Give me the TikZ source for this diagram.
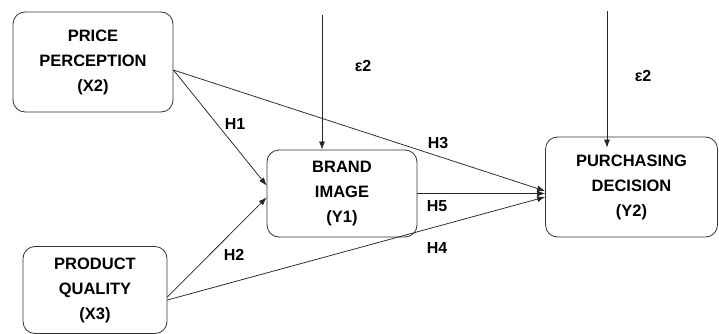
\documentclass[tikz,border=0pt]{standalone}
\usepackage{fontspec}
\setmainfont{Liberation Sans}
\usepackage{tikz}
\usetikzlibrary{calc,arrows.meta}

\begin{document}
\begin{tikzpicture}[->, >={Latex[length=8pt,width=6pt]}, x=1pt, y=-1pt]
        \tikzset{VarBox/.style={draw=black!80, line width=0.8pt, rounded corners=12pt, align=center,
            inner sep=0pt, font=\fontsize{16.5}{25}\selectfont\bfseries}}
        \tikzset{HypLabel/.style={font=\fontsize{16}{18}\selectfont\bfseries, inner sep=0pt}}
        \tikzset{Path/.style={draw=black!85, line width=0.75pt}}
        \useasboundingbox (0,0) rectangle (719,334);

        \node[VarBox, minimum width=160pt, minimum height=100pt] (price) at (93,62)
          {PRICE\\PERCEPTION\\(X2)};
        \node[VarBox, minimum width=144pt, minimum height=87pt] (quality) at (95,290)
          {PRODUCT\\QUALITY\\(X3)};
        \node[VarBox, minimum width=150pt, minimum height=87pt] (brand) at (342,193.5)
          {BRAND\\IMAGE\\(Y1)};
        \node[VarBox, minimum width=172pt, minimum height=100pt] (decision) at (631.5,187)
          {PURCHASING\\DECISION\\(Y2)};

        % error terms
        \coordinate (e1) at (322,15);
        \coordinate (e2) at (607,11);
        \draw[Path] (e1) -- (e1 |- brand.north);
        \draw[Path] (e2) -- ([yshift=-11pt]e2 |- decision.north);
        \node[HypLabel] (eps1) at (363,66) {ε2};
        \node[HypLabel] (eps2) at (643,76) {ε2};

        % hypotheses
        \draw[Path] ([yshift=-8pt]price.east) -- ([yshift=8pt]brand.west);
        \draw[Path] ([yshift=-7pt]quality.east) -- ([yshift=-4pt]brand.west);
        \draw[Path] ([yshift=-8pt]price.east) -- ([yshift=-4pt]decision.west);
        \draw[Path] ([yshift=-10pt]quality.east) -- ([yshift=-10pt]decision.west);
        \draw[Path] (brand.east) -- (brand.east -| decision.west);

        \node[HypLabel] (h1) at (235,124) {H1};
        \node[HypLabel] (h2) at (234,255) {H2};
        \node[HypLabel] (h3) at (438,143) {H3};
        \node[HypLabel] (h5) at (437,206) {H5};
        \node[HypLabel] (h4) at (437,248) {H4};
      \end{tikzpicture}
\end{document}
